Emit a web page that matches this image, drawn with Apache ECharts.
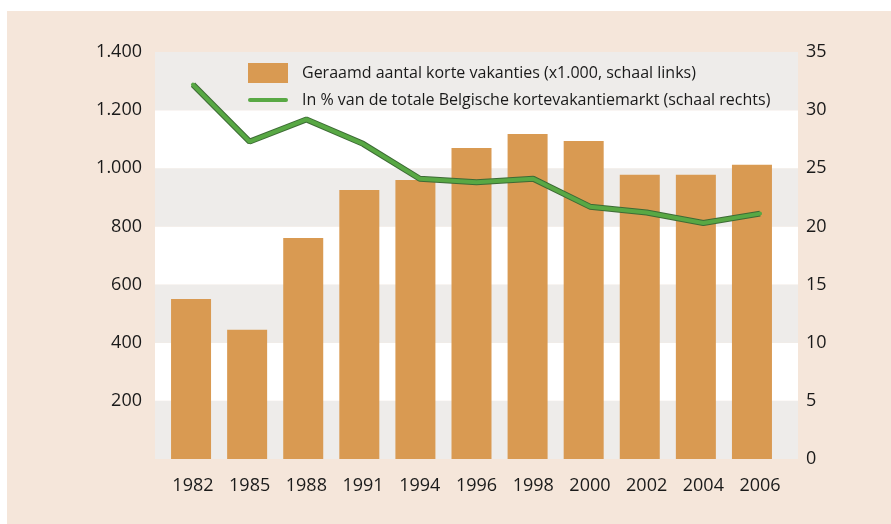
<!DOCTYPE html>
<html>
<head>
<meta charset="utf-8">
<script src="https://cdn.jsdelivr.net/npm/echarts@6/dist/echarts.min.js"></script>
<style>
html,body{margin:0;padding:0;background:#ffffff;}
#chart{width:891px;height:524px;}
</style>
</head>
<body>
<div id="chart"></div>
<script>
const categories = ['1982','1985','1988','1991','1994','1996','1998','2000','2002','2004','2006'];
const tripsThousands = [550, 445, 760, 925, 960, 1070, 1118, 1094, 978, 978, 1012];
const sharePercent = [32.2, 27.3, 29.2, 27.1, 24.1, 23.8, 24.1, 21.7, 21.2, 20.3, 21.1];
const leftTicks = {min: 0, max: 1400, interval: 200};
const rightTicks = {min: 0, max: 35, interval: 5};
const barName = 'Geraamd aantal korte vakanties (x1.000, schaal links)';
const lineName = 'In % van de totale Belgische kortevakantiemarkt (schaal rechts)';

const FONT = '"Open Sans", "Noto Sans", sans-serif';
const TXT = '#1a1a1a';
function fmt(v){
  if (v === 0) return '';
  if (v >= 1000) return Math.floor(v/1000) + '.' + String(v % 1000).padStart(3,'0');
  return String(v);
}

const chart = echarts.init(document.getElementById('chart'));
chart.setOption({
  animation: false,
  backgroundColor: '#ffffff',
  graphic: [{
    type: 'rect', z: -10, silent: true,
    shape: {x: 7, y: 11, width: 884, height: 513},
    style: {fill: '#f5e6da'}
  }],
  legend: {
    left: 248, top: 63, orient: 'vertical', padding: 0,
    itemWidth: 40, itemHeight: 20, itemGap: 9,
    textStyle: {fontFamily: FONT, fontSize: 16, color: TXT, padding: [0,0,0,9]},
    data: [
      {name: barName, icon: 'rect'},
      {name: lineName, icon: 'path://M2,0 L38,0 A2,2 0 0 1 38,4 L2,4 A2,2 0 0 1 2,0 Z', itemStyle: {color: '#58a844'}}
    ]
  },
  grid: [
    {left: 155, right: 93, top: 52, bottom: 65},
    {left: 163, right: 111, top: 52, bottom: 65},
    {left: 164.6, right: 102.6, top: 52, bottom: 65}
  ],
  xAxis: [
    {gridIndex: 0, type: 'category', data: categories, show: false},
    {gridIndex: 1, type: 'category', data: categories, show: false},
    {gridIndex: 2, type: 'category', data: categories,
     axisLine: {show: false}, axisTick: {show: false},
     axisLabel: {fontFamily: FONT, fontSize: 18, color: TXT, margin: 18}}
  ],
  yAxis: [
    {gridIndex: 0, type: 'value', position: 'left', min: leftTicks.min, max: leftTicks.max, interval: leftTicks.interval,
     axisLine: {show: false}, axisTick: {show: false}, splitLine: {show: false},
     splitArea: {show: true, areaStyle: {color: ['#eeecea', '#ffffff']}},
     axisLabel: {fontFamily: FONT, fontSize: 18, color: TXT, margin: 13, formatter: fmt, padding: [4,0,0,0]}},
    {gridIndex: 0, type: 'value', position: 'right', min: rightTicks.min, max: rightTicks.max, interval: rightTicks.interval,
     axisLine: {show: false}, axisTick: {show: false}, splitLine: {show: false},
     axisLabel: {fontFamily: FONT, fontSize: 18, color: TXT, margin: 8, align: 'left', padding: [2,0,0,0]}},
    {gridIndex: 1, type: 'value', min: leftTicks.min, max: leftTicks.max, show: false, splitLine: {show: false}},
    {gridIndex: 2, type: 'value', min: rightTicks.min, max: rightTicks.max, show: false, splitLine: {show: false}}
  ],
  series: [
    {name: barName, type: 'bar', xAxisIndex: 1, yAxisIndex: 2, data: tripsThousands,
     barWidth: 40, itemStyle: {color: '#d99a52'}},
    {name: '_outline', type: 'line', xAxisIndex: 2, yAxisIndex: 3, data: sharePercent,
     symbol: 'none', lineStyle: {color: '#3d6b35', width: 6}, z: 3, silent: true},
    {name: lineName, type: 'line', xAxisIndex: 2, yAxisIndex: 3, data: sharePercent,
     symbol: 'none', lineStyle: {color: '#58a844', width: 4, cap: 'round'}, z: 4}
  ]
});
</script>
</body>
</html>
